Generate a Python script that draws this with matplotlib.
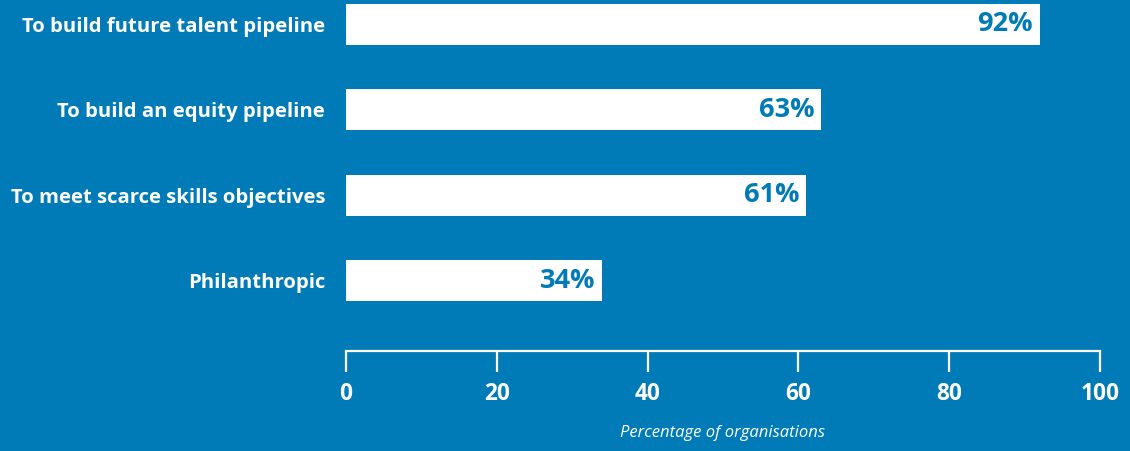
import matplotlib.pyplot as plt

categories = ["To build future talent pipeline", "To build an equity pipeline",
              "To meet scarce skills objectives", "Philanthropic"]
values = [92, 63, 61, 34]
xticks = [0, 20, 40, 60, 80, 100]

bg = "#007BB7"
plt.rcParams['font.family'] = ['Open Sans', 'DejaVu Sans']

fig = plt.figure(figsize=(11.3, 4.51), dpi=100, facecolor=bg)
ax = fig.add_axes([346 / 1130, 1 - 351 / 451, 754 / 1130, 351 / 451], facecolor=bg)

pos = range(len(categories))
ax.barh(pos, values, height=0.48, color="white")
ax.set_ylim(len(categories) - 1 + 0.826, -0.287)
ax.set_xlim(0, 100)

for p, v in zip(pos, values):
    ax.text(v - 0.9, p, f"{v}%", ha="right", va="center", color=bg,
            fontsize=19.5, fontweight="bold")

ax.set_yticks(list(pos))
ax.set_yticklabels(categories, fontsize=14.6, fontweight="bold", color="white")
ax.tick_params(axis="y", length=0, pad=15)

ax.set_xticks(xticks)
ax.set_xticklabels([str(t) for t in xticks], fontsize=16.3, fontweight="bold", color="white")
ax.tick_params(axis="x", direction="out", length=15, width=1.6, color="white", pad=7)

for s in ["top", "right", "left"]:
    ax.spines[s].set_visible(False)
ax.spines["bottom"].set_color("white")
ax.spines["bottom"].set_linewidth(1.6)

ax.set_xlabel("Percentage of organisations", fontsize=12, fontstyle="italic",
              color="white", labelpad=14)

fig.savefig("out.png", dpi=100, facecolor=bg)
